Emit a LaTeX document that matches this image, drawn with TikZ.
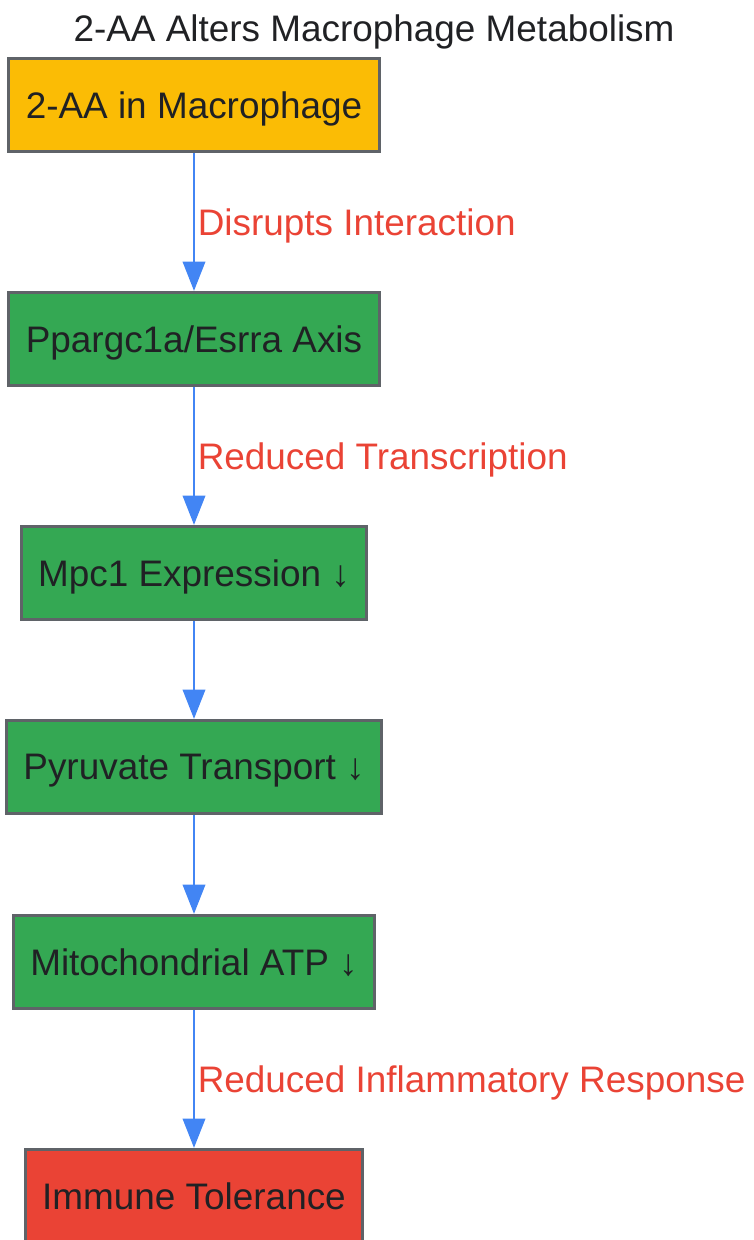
\documentclass[tikz,border=0pt]{standalone}
\usepackage{fontspec}
\setmainfont{Liberation Sans}
\usetikzlibrary{arrows.meta, positioning}
\definecolor{gyellow}{HTML}{FBBC05}
\definecolor{ggreen}{HTML}{34A853}
\definecolor{gred}{HTML}{EA4335}
\definecolor{gblue}{HTML}{4285F4}
\definecolor{edgegray}{HTML}{5F6368}
\definecolor{textdark}{HTML}{202124}

\begin{document}
\begin{tikzpicture}[x=0.03cm, y=-0.03cm,
  every node/.style={font=\fontsize{31.5pt}{38pt}\selectfont, text=textdark, text depth=0pt},
  stage/.style={draw=edgegray, line width=2.4pt, minimum height=2.8cm, inner xsep=14.5pt},
  flow/.style={draw=gblue, line width=2.4pt, -{Triangle[length=25pt, width=19pt]}},
  cue/.style={midway, right, inner sep=2pt, text=gred}]
  \useasboundingbox (0,0) rectangle (753,1240);
  \clip (0,0) rectangle (753,1240);

  \node (title) at (374,28) {2-AA Alters Macrophage Metabolism};

  \node[stage, fill=gyellow] (aa) at (194,105) {2-AA in Macrophage};
  \node[stage, fill=ggreen] (axis) at (194,339) {Ppargc1a/Esrra Axis};
  \node[stage, fill=ggreen] (mpc) at (194,573) {Mpc1 Expression ↓};
  \node[stage, fill=ggreen] (pyr) at (194,767) {Pyruvate Transport ↓};
  \node[stage, fill=ggreen] (atp) at (194,962) {Mitochondrial ATP ↓};
  \node[stage, fill=gred] (tol) at (194,1196) {Immune Tolerance};

  % links
  \draw[flow] (aa) -- node[cue] {Disrupts Interaction} (axis);
  \draw[flow] (axis) -- node[cue] {Reduced Transcription} (mpc);
  \draw[flow] (mpc) -- (pyr);
  \draw[flow] (pyr) -- (atp);
  \draw[flow] (atp) -- node[cue] {Reduced Inflammatory Response} (tol);
\end{tikzpicture}
\end{document}
